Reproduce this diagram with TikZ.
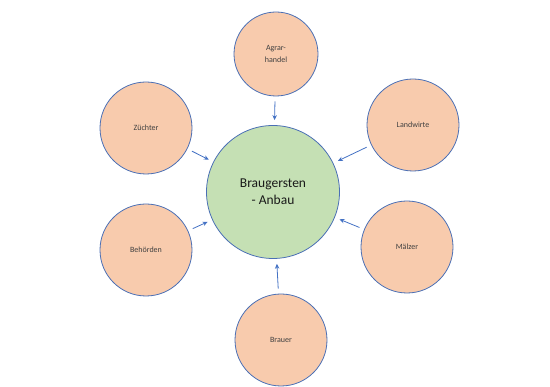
\documentclass[tikz,border=0pt]{standalone}
\usepackage{fontspec}
\setmainfont{Carlito}
\usetikzlibrary{
    arrows.meta,
    positioning
}
\definecolor{peach}{HTML}{F8CBAD}
\definecolor{lightgreen}{HTML}{C5E0B4}
\definecolor{rim}{HTML}{4A6FB5}
\definecolor{arrowblue}{HTML}{4472C4}
\tikzset{
    actor/.style={circle, draw=rim, line width=0.8pt, fill=peach, minimum size=92pt, inner sep=0pt, font=\fontsize{8}{10}\selectfont, text=black!75},
    core/.style={circle, draw=rim, line width=0.8pt, fill=lightgreen, minimum size=133pt, inner sep=0pt, font=\fontsize{13.5}{19}\selectfont, text=black!90},
    flow/.style={-{Stealth[length=5pt,width=4.5pt]}, arrowblue, line width=0.8pt, shorten <=5pt, shorten >=5pt}
}

\begin{document}
\begin{tikzpicture}[x=1pt, y=-1pt]
                        \useasboundingbox (0, 0) rectangle (550, 387);
                        \node[core] (anbau) at (273, 192) {\shortstack{Braugersten\\[2pt]- Anbau}};
                        \node[actor, minimum size=84pt] (handel) at (276, 54) {\shortstack{Agrar-\\[2pt]handel}};
                        \node[actor] (zuechter) at (146, 128) {Züchter};
                        \node[actor] (landwirte) at (413, 125) {Landwirte};
                        \node[actor] (behoerden) at (146, 250) {Behörden};
                        \node[actor] (maelzer) at (407, 247) {Mälzer};
                        \node[actor] (brauer) at (281, 340) {Brauer};
                        \draw[flow] (handel) -- (anbau);
                        \draw[flow] (zuechter) -- (anbau);
                        \draw[flow] (landwirte) -- (anbau);
                        \draw[flow] (behoerden) -- (anbau);
                        \draw[flow] (maelzer) -- (anbau);
                        \draw[flow] (brauer) -- (anbau);
                    \end{tikzpicture}
\end{document}
